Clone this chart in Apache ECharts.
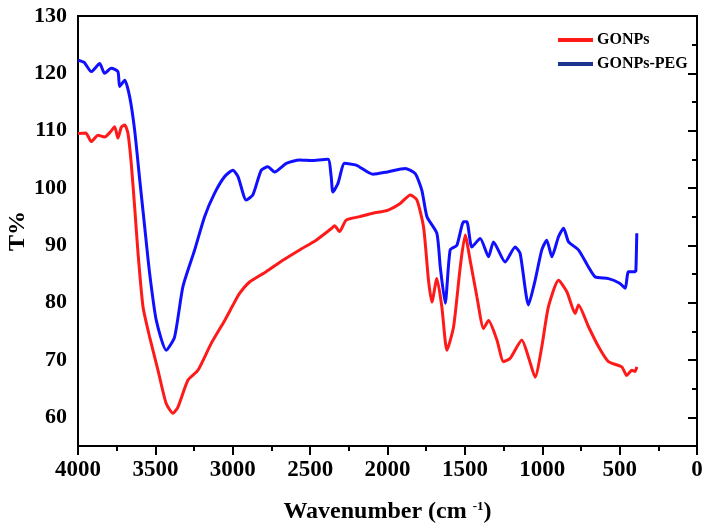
<!DOCTYPE html>
<html>
<head>
<meta charset="utf-8">
<script src="https://cdn.jsdelivr.net/npm/echarts@6/dist/echarts.min.js"></script>
<style>html,body{margin:0;padding:0;background:#fff;}#c{width:708px;height:528px;}</style>
</head>
<body>
<div id="c"></div>
<script>
const seriesNames = ['GONPs', 'GONPs-PEG'];
const xTicks = [4000, 3500, 3000, 2500, 2000, 1500, 1000, 500, 0];
const xMinorTicks = [3750, 3250, 2750, 2250, 1750, 1250, 750, 250];
const yTicks = [60, 70, 80, 90, 100, 110, 120, 130];
const yMinorTicks = [55, 65, 75, 85, 95, 105, 115, 125];

const gonpsWave = [4000,3950,3914,3871,3828,3790,3763,3742,3720,3698,3677,3656,3634,3612,3580,3537,3483,3430,3386,3354,3289,3225,3139,3052,3000,2956,2891,2784,2676,2568,2461,2364,2342,2310,2267,2180,2094,2000,1918,1853,1810,1767,1735,1713,1681,1649,1616,1573,1530,1498,1466,1422,1379,1347,1293,1250,1207,1132,1089,1046,1003,960,895,841,787,766,701,636,572,486,454,421,400,389];
const gonpsT = [109.5,109.6,108.1,109.2,108.9,109.8,110.7,108.7,110.6,111,109.5,104.3,96.7,88.6,79.3,74,68.2,62.4,60.7,61.8,66.5,68.2,72.9,76.9,79.5,81.6,83.6,85.4,87.4,89.2,90.9,92.9,93.4,92.4,94.4,95,95.6,96.1,97.3,98.8,97.9,93.2,83.9,80.1,84.2,79.3,71.7,75.8,86.2,91.8,87.4,81,75.5,76.9,73.5,69.7,70.3,73.5,70.5,67,72.3,79.3,83.9,81.9,78.1,79.6,75.8,72.3,69.7,68.8,67.3,68.2,68.0,68.8];

const pegWave = [4000,3960,3914,3860,3828,3785,3742,3731,3698,3666,3634,3601,3569,3537,3494,3430,3376,3322,3246,3182,3117,3052,2999,2966,2913,2870,2816,2773,2730,2654,2568,2482,2385,2364,2353,2320,2277,2202,2094,2000,1886,1821,1778,1745,1681,1659,1627,1595,1552,1508,1487,1455,1401,1347,1315,1240,1175,1143,1089,1046,1003,971,938,895,862,830,766,701,658,572,500,464,443,400,395,389];
const pegT = [122.3,121.9,120.3,121.7,120,120.9,120.3,117.7,118.8,115.9,110.1,101.4,93.2,85.1,76.9,71.7,74,82.8,89.2,95,99.1,102,103.1,102,97.9,98.8,103.1,103.7,102.8,104.3,104.9,104.8,105,102,99.3,100.8,104.3,104,102.4,102.8,103.4,102.5,99.6,95,92.1,86.2,79.9,89.2,90,94.1,94.1,89.7,91.2,88,90.6,87.1,89.7,88.6,79.6,83.9,89.2,90.9,88,91.5,93,90.6,89.2,86.2,84.5,84.2,83.4,82.5,85.4,85.4,85.6,92.1];

const pair = (xs, ys) => xs.map((x, i) => [x, ys[i]]);
const serifBold = { fontFamily: 'Liberation Serif', fontWeight: 'bold', color: '#000' };
const blackLine = { color: '#000', width: 2 };

const chart = echarts.init(document.getElementById('c'));
chart.setOption({
  animation: false,
  backgroundColor: '#fff',
  grid: { left: 78, right: 11, top: 16, bottom: 82, containLabel: false, outerBoundsMode: 'none', show: true, borderColor: '#000', borderWidth: 2, backgroundColor: 'transparent' },
  legend: {
    orient: 'vertical', left: 553, top: 27, itemGap: 8, itemWidth: 35, itemHeight: 4, icon: 'rect',
    textStyle: Object.assign({ fontSize: 16, padding: [0, 0, 0, -1] }, serifBold),
    data: [
      { name: seriesNames[0], itemStyle: { color: '#ff1a1a' } },
      { name: seriesNames[1], itemStyle: { color: '#1c3490' } }
    ]
  },
  xAxis: [{
    type: 'value', inverse: true, min: 0, max: 4000, interval: 250, position: 'bottom',
    name: 'Wavenumber (cm {sup|-1})', nameLocation: 'middle', nameGap: 54,
    nameTextStyle: Object.assign({ fontSize: 24, rich: { sup: { fontFamily: 'Liberation Serif', fontWeight: 'bold', fontSize: 13, verticalAlign: 'top', padding: [0, 0, 10, 0] } } }, serifBold),
    axisLine: { show: true, lineStyle: blackLine },
    axisTick: { show: true, length: 9, customValues: xTicks, lineStyle: blackLine },
    axisLabel: { ...serifBold, fontSize: 23, margin: 13, customValues: xTicks, formatter: v => String(v) },
    splitLine: { show: false }
  }, {
    type: 'value', inverse: true, min: 0, max: 4000, interval: 250, position: 'bottom',
    axisLine: { show: false },
    axisTick: { show: true, length: 5, customValues: xMinorTicks, lineStyle: blackLine },
    axisLabel: { show: false },
    splitLine: { show: false }
  }],
  yAxis: [{
    type: 'value', min: 55, max: 130, interval: 5, position: 'left',
    name: 'T%', nameLocation: 'middle', nameGap: 48, nameRotate: 90, nameMoveOverlap: false,
    nameTextStyle: Object.assign({ fontSize: 24 }, serifBold),
    axisLine: { show: true, lineStyle: blackLine },
    axisTick: { show: true, length: 9, customValues: yTicks, lineStyle: blackLine },
    axisLabel: { ...serifBold, fontSize: 22, margin: 11, customValues: yTicks, formatter: v => String(v) },
    splitLine: { show: false }
  }, {
    type: 'value', min: 55, max: 130, interval: 5, position: 'left',
    axisLine: { show: false },
    axisTick: { show: true, length: 5, customValues: yMinorTicks, lineStyle: blackLine },
    axisLabel: { show: false },
    splitLine: { show: false }
  }],
  series: [
    { name: seriesNames[0], type: 'line', xAxisIndex: 0, yAxisIndex: 0, data: pair(gonpsWave, gonpsT), symbol: 'none', smooth: 0.2, lineStyle: { color: '#ff1a1a', width: 3 }, itemStyle: { color: '#ff1a1a' } },
    { name: seriesNames[1], type: 'line', xAxisIndex: 0, yAxisIndex: 0, data: pair(pegWave, pegT), symbol: 'none', smooth: 0.2, lineStyle: { color: '#1010ff', width: 3 }, itemStyle: { color: '#1c3490' } }
  ]
});
</script>
</body>
</html>
